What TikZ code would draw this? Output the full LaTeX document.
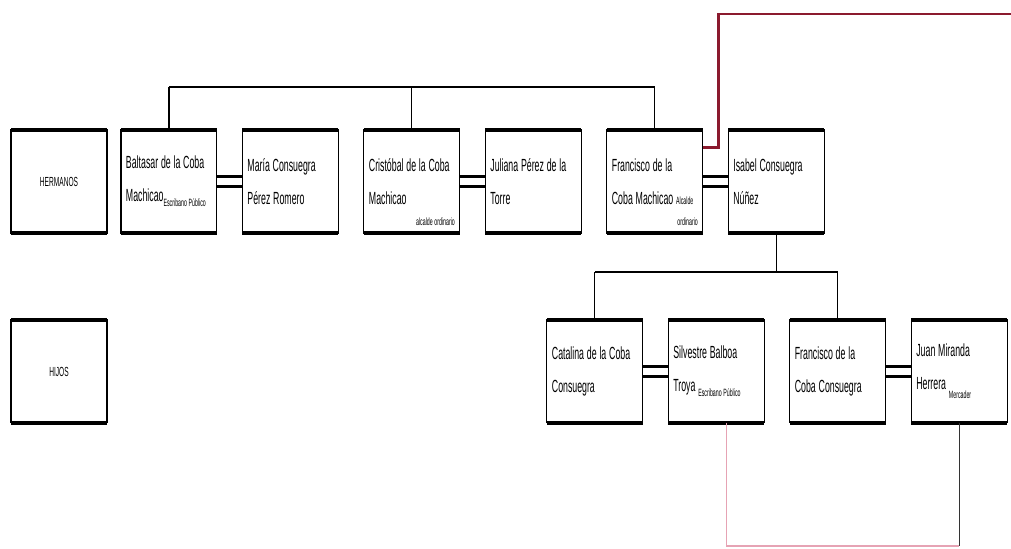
\documentclass[tikz,border=0pt]{standalone}
\usepackage{fontspec}
\newfontfamily\boxfont[FakeStretch=0.5]{Liberation Sans}
\usetikzlibrary{positioning}
\newcommand\namefont{\boxfont\fontsize{10}{18.8}\selectfont}
\newcommand\subfont{\fontsize{6}{7}\selectfont\spaceskip=0.9pt plus 0.3pt\relax}
\definecolor{wine}{HTML}{8B1A2E}
\definecolor{rosa}{HTML}{E6A3B4}

\begin{document}
\begin{tikzpicture}[
        x=0.02cm, y=-0.02cm,
        node distance=0.51cm,
        person/.style={draw, line width=0.6pt, inner xsep=0.1cm, inner ysep=0pt, outer sep=0pt,
            minimum width=1.92cm, minimum height=2.06cm, text width=1.72cm, align=left,
            font=\namefont, execute at begin node={\spaceskip=1.6pt plus 1pt minus 0.3pt\relax},
            append after command={(\tikzlastnode.north west) edge[line width=1.8pt] (\tikzlastnode.north east)
                (\tikzlastnode.south west) edge[line width=1.8pt] (\tikzlastnode.south east)}},
        rowlab/.style={person, align=center, font=\boxfont\fontsize{7.5}{9}\selectfont},
        bar/.style={line width=1.4pt},
        stem/.style={line width=0.6pt},
        marr/.style={line width=1.6pt}
    ]
        \useasboundingbox (0,0) rectangle (1011,548);

        % Hermanos
        \node[rowlab] (hermanos) at (59,181.5) {HERMANOS};
        \node[person, right=0.28cm of hermanos] (baltasar) {Baltasar de la Coba\\Machicao\raisebox{-3pt}{\subfont Escribano Público}};
        \node[person, right=of baltasar] (maria) {María Consuegra\\Pérez Romero};
        \node[person, right=of maria] (cristobal) {Cristóbal de la Coba\\Machicao\hfill\smash{\llap{\raisebox{-12pt}{\subfont alcalde ordinario}}}};
        \node[person, right=of cristobal] (juliana) {Juliana Pérez de la\\Torre};
        \node[person, right=of juliana] (francisco) {Francisco de la\\Coba Machicao {\subfont Alcalde}\hfill\smash{\llap{\raisebox{-12pt}{\subfont ordinario}}}};
        \node[person, right=of francisco] (isabel) {Isabel Consuegra\\Núñez};

        % Hijos
        \node[rowlab, below=1.74cm of hermanos] (hijos) {HIJOS};
        \node[person, right=8.8cm of hijos] (catalina) {Catalina de la Coba\\Consuegra};
        \node[person, right=of catalina] (silvestre) {Silvestre Balboa\\Troya \raisebox{-3pt}{\subfont Escribano Público}};
        \node[person, right=of silvestre] (franciscob) {Francisco de la\\Coba Consuegra};
        \node[person, right=of franciscob] (juan) {Juan Miranda\\Herrera \raisebox{-5pt}{\subfont Mercader}};

        \coordinate (topbar) at (0,87);
        \coordinate (kidsbar) at (0,272);
        \coordinate (pinkbase) at (0,546);
        \coordinate (redtop) at (718,14);
        \coordinate (redend) at (1011,14);

        % Marriages
        \foreach \a/\b in {baltasar/maria, cristobal/juliana, francisco/isabel, catalina/silvestre, franciscob/juan} {
            \draw[marr] ([yshift=1mm]\a.east) -- ([yshift=1mm]\b.west);
            \draw[marr] ([yshift=-1mm]\a.east) -- ([yshift=-1mm]\b.west);
        }

        % Brothers
        \draw[bar] (baltasar.north |- topbar) -- (francisco.north |- topbar);
        \foreach \n in {baltasar, cristobal, francisco}
            \draw[stem] (\n.north) -- (\n.north |- topbar);

        % Children
        \draw[stem] (isabel.south) -- (isabel.south |- kidsbar);
        \draw[bar] (catalina.north |- kidsbar) -- (franciscob.north |- kidsbar);
        \foreach \n in {catalina, franciscob}
            \draw[stem] (\n.north) -- (\n.north |- kidsbar);

        % Other links
        \draw[wine, line width=1.7pt] ([yshift=-0.34cm]francisco.north east) -| (redtop) -- (redend);
        \draw[rosa, stem] ([xshift=0.2cm]silvestre.south) |- (juan.south |- pinkbase);
        \draw[stem, black!80] (juan.south) -- (juan.south |- pinkbase);
    \end{tikzpicture}
\end{document}
